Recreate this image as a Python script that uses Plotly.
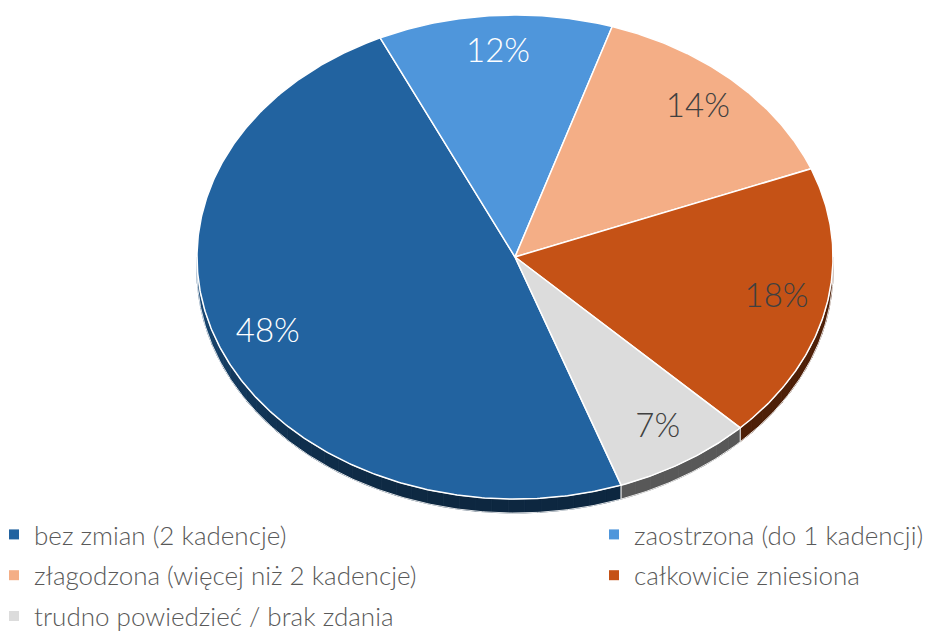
import numpy as np
import plotly.graph_objects as go

# ---- data ----
labels = [
    "bez zmian (2 kadencje)",
    "zaostrzona (do 1 kadencji)",
    "złagodzona (więcej niż 2 kadencje)",
    "całkowicie zniesiona",
    "trudno powiedzieć / brak zdania",
]
values = [48.4, 11.9, 14.1, 18.4, 7.1]
pct_labels = ["48%", "12%", "14%", "18%", "7%"]

colors = ["#2263A0", "#4F96DB", "#F4AE86", "#C55216", "#DCDCDC"]
label_colors = ["#FFFFFF", "#FFFFFF", "#404040", "#404040", "#404040"]
left_col = [0, 2, 4]
right_col = [1, 3]

# ---- geometry (screen-pixel-like axis units) ----
W, H = 931, 634
OFF = 8                 # page body margin
PW, PH = W - OFF, H - OFF
CX, CY = 515, 257
RX, RY = 318, 242
DEPTH = 14
START = 160.5           # degrees, clockwise from 12 o'clock
LABEL_R = 0.84
FONT = "Lato"


def arc(a0, a1, r=1.0, dy=0.0, n=None):
    if n is None:
        n = max(int(abs(a1 - a0) * 2) + 2, 3)
    t = np.radians(np.linspace(a0, a1, n))
    return CX + RX * r * np.sin(t), CY - RY * r * np.cos(t) + dy


def shade(hex_color, theta):
    # darker toward the bottom/right, lighter toward the left
    t = ((theta - 90) % 360)          # 0 at right, 90 bottom, 180 left
    f = 0.40 + 0.40 * max(0.0, (t - 90) / 90.0) ** 2
    h = hex_color.lstrip("#")
    rgb = [int(h[k:k + 2], 16) for k in (0, 2, 4)]
    return "rgb({},{},{})".format(*[int(c * f) for c in rgb])


total = float(sum(values))
bounds = [START]
for v in values:
    bounds.append(bounds[-1] + 360.0 * v / total)

fig = go.Figure()

# rims (3D side), visible where the edge faces the viewer
visible = [(90, 270), (450, 630)]
STEP = 3.0
for i in range(len(values)):
    a0, a1 = bounds[i], bounds[i + 1]
    for w0, w1 in visible:
        b0, b1 = max(a0, w0), min(a1, w1)
        if b1 <= b0:
            continue
        nseg = max(int(np.ceil((b1 - b0) / STEP)), 1)
        edges = np.linspace(b0, b1, nseg + 1)
        for s in range(nseg):
            c0, c1 = edges[s], edges[s + 1]
            xt, yt = arc(c0, c1, n=6)
            xb, yb = arc(c0, c1, dy=DEPTH, n=6)
            col = shade(colors[i], (c0 + c1) / 2)
            fig.add_trace(go.Scatter(
                x=np.concatenate([xt, xb[::-1], xt[:1]]),
                y=np.concatenate([yt, yb[::-1], yt[:1]]),
                mode="lines", fill="toself", fillcolor=col,
                line=dict(color=col, width=0.8),
                hoverinfo="skip", showlegend=False))
        # outline of the rim piece
        xt, yt = arc(b0, b1)
        xb, yb = arc(b0, b1, dy=DEPTH)
        fig.add_trace(go.Scatter(
            x=np.concatenate([xt, xb[::-1], xt[:1]]),
            y=np.concatenate([yt, yb[::-1], yt[:1]]),
            mode="lines", line=dict(color="rgba(255,255,255,0.85)", width=1),
            hoverinfo="skip", showlegend=False))

# top faces
for i in range(len(values)):
    a0, a1 = bounds[i], bounds[i + 1]
    xa, ya = arc(a0, a1)
    xs = np.concatenate([[CX], xa, [CX]])
    ys = np.concatenate([[CY], ya, [CY]])
    fig.add_trace(go.Scatter(
        x=xs, y=ys, mode="lines", fill="toself",
        fillcolor=colors[i], line=dict(color="white", width=1.5),
        hoverinfo="skip", showlegend=False))

# percentage labels
mids = [(bounds[i] + bounds[i + 1]) / 2 for i in range(len(values))]
lx = [CX + RX * LABEL_R * np.sin(np.radians(m)) for m in mids]
ly = [CY - RY * LABEL_R * np.cos(np.radians(m)) for m in mids]
fig.add_trace(go.Scatter(
    x=lx, y=ly, mode="text", text=pct_labels,
    textfont=dict(family=FONT, size=33, color=label_colors, weight=300),
    hoverinfo="skip", showlegend=False))

# legend entries (square markers), two columns
for i in range(len(labels)):
    fig.add_trace(go.Scatter(
        x=[None], y=[None], mode="markers", name=labels[i],
        marker=dict(symbol="square", size=10, color=colors[i]),
        legend="legend" if i in left_col else "legend2",
        legendgroup=str(i), showlegend=True))

legend_common = dict(
    xanchor="left", yanchor="top", bgcolor="rgba(0,0,0,0)",
    font=dict(family=FONT, size=26, color="#595959", weight=300),
    tracegroupgap=4, itemwidth=30, traceorder="grouped",
    orientation="v",
)

fig.update_layout(
    width=PW, height=PH,
    margin=dict(l=0, r=0, t=0, b=0, autoexpand=False),
    paper_bgcolor="white", plot_bgcolor="white",
    xaxis=dict(range=[OFF, W], visible=False, fixedrange=True),
    yaxis=dict(range=[H, OFF], visible=False, fixedrange=True),
    legend=dict(x=(-6 - OFF) / PW, y=1 - (511 - OFF) / PH, **legend_common),
    legend2=dict(x=(594 - OFF) / PW, y=1 - (511 - OFF) / PH, **legend_common),
)

fig.write_html("out.html")
